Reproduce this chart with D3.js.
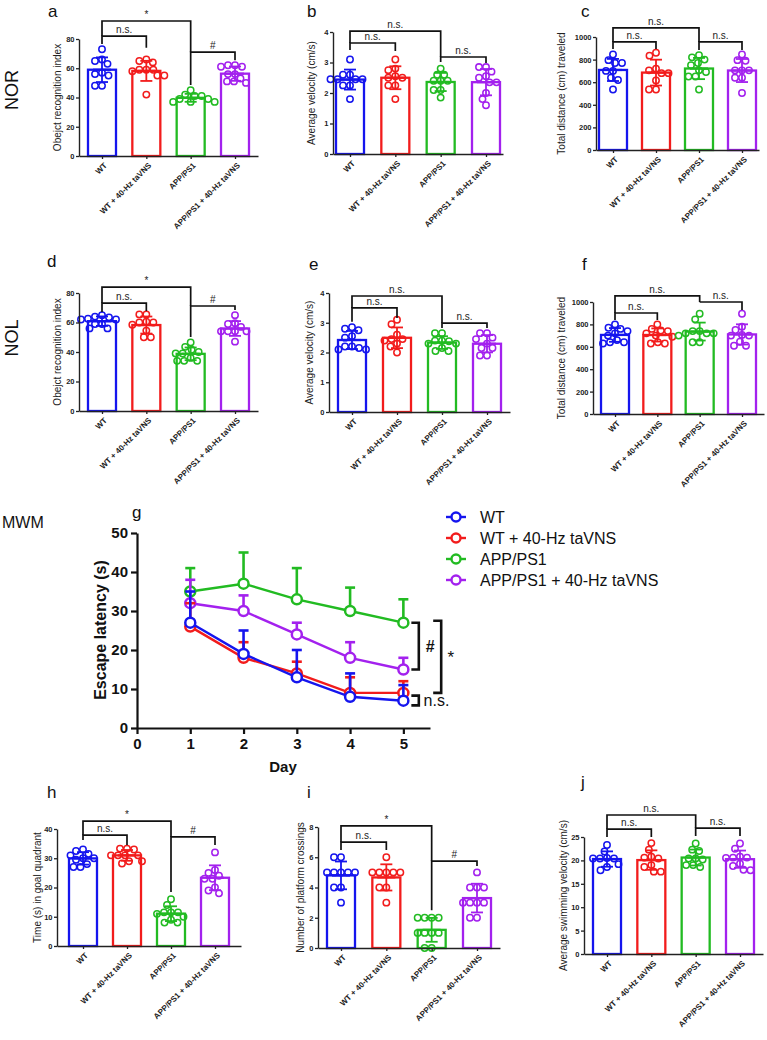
<!DOCTYPE html>
<html><head><meta charset="utf-8">
<script src="https://cdn.jsdelivr.net/npm/d3@7"></script>
<style>
body{margin:0;background:#fff}
svg{display:block}
text{font-family:Arial,"Liberation Sans",Helvetica,sans-serif}
</style>
</head><body>
<svg id="c" width="767" height="1040"></svg>
<script>
// ---------- data ----------
const groups = ["WT", "WT + 40-Hz taVNS", "APP/PS1", "APP/PS1 + 40-Hz taVNS"];
const colors = ["#1515EE", "#F21C1C", "#22BB22", "#A321EE"];

// a: NOR object recognition index
const norIndex = [
  [73, 66, 65, 63, 57, 56, 55, 48, 48],
  [64, 65, 66, 59, 58, 59, 59, 55, 55, 42],
  [45, 41, 42, 41, 39, 39, 37, 37, 37],
  [61, 62, 62, 61, 56, 56, 50, 51, 51, 53]
];
// b: NOR average velocity
const norVelocity = [
  [3.1, 2.6, 2.6, 2.45, 2.45, 2.45, 2.45, 2.25, 2.25, 1.8],
  [3.1, 2.8, 2.75, 2.5, 2.55, 2.5, 2.25, 2.25, 1.8],
  [2.8, 2.6, 2.6, 2.4, 2.4, 2.4, 2.1, 2.1, 1.85],
  [2.85, 2.85, 2.7, 2.55, 2.5, 2.35, 2.35, 2.0, 1.8, 1.6]
];
// c: NOR total distance
const norDistance = [
  [845, 795, 770, 770, 700, 700, 640, 620, 535],
  [860, 835, 720, 705, 680, 680, 615, 535, 535],
  [840, 820, 800, 770, 750, 705, 690, 650, 650, 535],
  [845, 795, 790, 705, 705, 705, 640, 640, 505]
];
// d: NOL object recognition index
const nolIndex = [
  [65, 64, 63.5, 62.5, 62, 62, 59, 59, 56, 56],
  [65.5, 65.5, 60.5, 60, 60, 58.5, 54.5, 50, 50],
  [46.5, 43.5, 41.5, 40, 39, 39, 36, 34, 34, 34],
  [65, 59.5, 59, 57, 54, 54, 54, 54, 47]
];
// e: NOL average velocity
const nolVelocity = [
  [2.85, 2.8, 2.75, 2.55, 2.5, 2.2, 2.2, 2.15, 2.1, 2.1],
  [3.1, 2.95, 2.6, 2.45, 2.45, 2.4, 2.3, 2.2, 2.0],
  [2.65, 2.65, 2.4, 2.4, 2.38, 2.3, 2.3, 2.15, 2.05, 2.05],
  [2.65, 2.65, 2.5, 2.45, 2.3, 2.15, 2.15, 1.9, 1.9]
];
// f: NOL total distance
const nolDistance = [
  [800, 770, 760, 740, 720, 700, 660, 640, 640, 630],
  [800, 760, 745, 740, 720, 700, 690, 640, 630, 630],
  [895, 845, 740, 740, 720, 720, 720, 700, 640, 640],
  [895, 780, 750, 705, 700, 700, 645, 610, 610]
];
// g: MWM escape latency (mean, SD) per day
const days = [1, 2, 3, 4, 5];
const wtLatency = [27, 19, 13, 8, 7];
const wtLatencySD = [8, 6, 7, 6, 4];
const wtTavnsLatency = [26, 18, 14, 9, 9];
const wtTavnsLatencySD = [6, 4, 3, 4, 3];
const appLatency = [35, 37, 33, 30, 27];
const appLatencySD = [6, 8, 8, 6, 6];
const appTavnsLatency = [32, 30, 24, 18, 15];
const appTavnsLatencySD = [6, 4, 3, 4, 3];
const latencyTicks = [0, 10, 20, 30, 40, 50];
const dayTicks = [0, 1, 2, 3, 4, 5];
// h: time in goal quadrant
const goalTime = [
  [33, 32.5, 31.5, 31, 30, 30, 29.5, 28, 27, 27],
  [33.3, 33.3, 33, 31, 31, 31, 31, 29, 29, 28.2],
  [16, 14, 11.5, 11.5, 11.5, 11, 10, 9, 8, 8],
  [32, 26, 25, 24, 23, 23, 20, 19, 18]
];
// i: platform crossings
const crossings = [
  [6, 6, 5, 5, 5, 5, 5, 4, 4, 3],
  [6, 5, 5, 5, 5, 5, 4, 4, 3],
  [2, 2, 2, 2, 1, 1, 1, 1, 0, 0],
  [5, 4, 4, 4, 3, 3, 3, 3, 2, 2]
];
// j: average swimming velocity
const swimVelocity = [
  [23.3, 21.9, 20.5, 20.4, 20.4, 20.4, 19.2, 18.6, 17.9],
  [23.7, 22.3, 20.8, 20.6, 20.4, 19, 18.6, 17.6, 17.6],
  [23.6, 22.3, 22, 20.4, 20.4, 20.2, 19, 19, 18.6],
  [23.6, 22.5, 20.8, 20.6, 20.6, 20.5, 19.3, 18.8, 18, 17.9]
];

// ---------- drawing ----------
const svg = d3.select("#c");
const fmt = d3.format("d");

function beeswarm(vals, y, cx, r) {
  const idx = vals.map((v, i) => i).sort((a, b) => vals[b] - vals[a]);
  const placed = [];
  const out = new Array(vals.length);
  const d = 2 * r + 0.6;
  idx.forEach(i => {
    const py = y(vals[i]);
    let off = 0;
    for (let k = 0; k < 200; k++) {
      const c = (k % 2 === 0 ? 1 : -1) * Math.ceil(k / 2) * 0.5;
      const ok = placed.every(p => Math.hypot(p[0] - (cx + c), p[1] - py) >= d);
      if (ok) { off = c; break; }
    }
    placed.push([cx + off, py]);
    out[i] = [cx + off, py];
  });
  return out;
}

function styleAxis(sel, fs) {
  sel.select(".domain").attr("stroke", "#222").attr("stroke-width", 1.4);
  sel.selectAll(".tick line").attr("stroke", "#222").attr("stroke-width", 1.3);
  sel.selectAll(".tick text").attr("fill", "#222").style("font-size", fs + "px").style("font-weight", "bold");
}

function barPanel(cfg) {
  const g = svg.append("g");
  const stepPx = (cfg.c3 - cfg.c0) / 3;
  const pad = (cfg.c0 - cfg.left) / stepPx;
  const right = cfg.c3 + (cfg.c0 - cfg.left);
  const x = d3.scalePoint().domain(groups).range([cfg.left, right]).padding(pad);
  const y = d3.scaleLinear().domain([0, cfg.max]).range([cfg.bottom, cfg.top]);
  const bw = 28, r = 3.2;

  groups.forEach((grp, i) => {
    const vals = cfg.data[i];
    const m = d3.mean(vals), sd = d3.deviation(vals);
    const cx = x(grp);
    g.append("rect").attr("x", cx - bw / 2).attr("y", y(m)).attr("width", bw)
      .attr("height", y(0) - y(m)).attr("fill", "#fff").attr("stroke", colors[i]).attr("stroke-width", 2.3);
    g.append("line").attr("x1", cx).attr("x2", cx).attr("y1", y(m - sd)).attr("y2", y(m + sd))
      .attr("stroke", colors[i]).attr("stroke-width", 1.8);
    [m - sd, m + sd].forEach(v => g.append("line").attr("x1", cx - 6).attr("x2", cx + 6)
      .attr("y1", y(v)).attr("y2", y(v)).attr("stroke", colors[i]).attr("stroke-width", 1.8));
    g.append("line").attr("x1", cx - 9).attr("x2", cx + 9).attr("y1", y(m)).attr("y2", y(m))
      .attr("stroke", colors[i]).attr("stroke-width", 2.2);
    const pts = beeswarm(vals, y, cx, r);
    g.selectAll(null).data(pts).join("circle").attr("cx", d => d[0]).attr("cy", d => d[1]).attr("r", r)
      .attr("fill", "none").attr("stroke", colors[i]).attr("stroke-width", 1.5);
  });

  const ya = g.append("g").attr("transform", `translate(${cfg.left},0)`)
    .call(d3.axisLeft(y).tickValues(d3.range(0, cfg.max + cfg.step / 2, cfg.step)).tickFormat(fmt)
      .tickSize(3).tickSizeOuter(0).tickPadding(1.5));
  styleAxis(ya, 7.5);
  const xa = g.append("g").attr("transform", `translate(0,${cfg.bottom})`)
    .call(d3.axisBottom(x).tickSize(3).tickSizeOuter(0));
  styleAxis(xa, 8);
  xa.selectAll(".tick text").attr("x", 0).attr("y", 0).attr("dy", "0.35em")
    .attr("transform", "translate(3,8) rotate(-45)").style("text-anchor", "end");

  g.append("text").attr("transform", `translate(${cfg.ylx},${(cfg.top + cfg.bottom) / 2}) rotate(-90)`)
    .attr("dy", "0.35em").attr("text-anchor", "middle").style("font-size", "10px").attr("fill", "#222")
    .text(cfg.ylabel);
  g.append("text").attr("x", cfg.lx).attr("y", cfg.ly).style("font-size", "17px").attr("fill", "#111").text(cfg.letter);

  cfg.brackets.forEach(b => {
    const x1 = x(groups[b[0]]), x2 = x(groups[b[1]]);
    const yl = y(b[2]);
    g.append("path").attr("d", `M${x1},${y(b[3])}V${yl}H${x2}V${y(b[4])}`)
      .attr("fill", "none").attr("stroke", "#111").attr("stroke-width", 1.7);
    g.append("text").attr("x", (x1 + x2) / 2).attr("y", yl - 3).attr("text-anchor", "middle")
      .style("font-size", "10px").attr("fill", "#222").text(b[5]);
  });
}

const panels = [
  {data: norIndex, letter: "a", lx: 48, ly: 17, left: 79, c0: 102, c3: 235, top: 39, bottom: 156, max: 80, step: 20,
   ylabel: "Obejct recognition index", ylx: 57,
   brackets: [[0, 2, 92.3, 82, 71, "*"], [0, 1, 82, 76.5, 74, "n.s."], [2, 3, 71, 48.5, 65.5, "#"]]},
  {data: norVelocity, letter: "b", lx: 307, ly: 17, left: 333, c0: 350, c3: 486, top: 32, bottom: 154, max: 4, step: 1,
   ylabel: "Average velocity (cm/s)", ylx: 311,
   brackets: [[0, 2, 4.03, 3.64, 3.18, "n.s."], [0, 1, 3.64, 3.41, 3.38, "n.s."], [2, 3, 3.18, 3.02, 2.98, "n.s."]]},
  {data: norDistance, letter: "c", lx: 581, ly: 17, left: 596, c0: 613, c3: 742, top: 37, bottom: 150, max: 1000, step: 200,
   ylabel: "Total distance (cm) traveled", ylx: 561,
   brackets: [[0, 2, 1080, 956, 956, "n.s."], [0, 1, 956, 894, 894, "n.s."], [2, 3, 956, 885, 885, "n.s."]]},
  {data: nolIndex, letter: "d", lx: 47, ly: 267, left: 79, c0: 102, c3: 235, top: 293, bottom: 411, max: 80, step: 20,
   ylabel: "Obejct recognition index", ylx: 57,
   brackets: [[0, 2, 84, 73.2, 71.2, "*"], [0, 1, 73.2, 67.1, 67.8, "n.s."], [2, 3, 71.2, 50.2, 68.5, "#"]]},
  {data: nolVelocity, letter: "e", lx: 309, ly: 270, left: 329, c0: 352, c3: 487, top: 293, bottom: 412, max: 4, step: 1,
   ylabel: "Average velocity (cm/s)", ylx: 309,
   brackets: [[0, 2, 3.9, 3.5, 2.99, "n.s."], [0, 1, 3.5, 3.03, 3.16, "n.s."], [2, 3, 2.99, 2.82, 2.82, "n.s."]]},
  {data: nolDistance, letter: "f", lx: 582, ly: 270, left: 593, c0: 615, c3: 742, top: 302, bottom: 414, max: 1000, step: 200,
   ylabel: "Total distance (cm) traveled", ylx: 561,
   brackets: [[0, 2, 1054, 902, 1000, "n.s."], [0, 1, 902, 839, 839, "n.s."], [2, 3, 1000, 1000, 929, "n.s."]]},
  {data: goalTime, letter: "h", lx: 47, ly: 798, left: 57, c0: 83, c3: 215, top: 829, bottom: 946, max: 40, step: 10,
   ylabel: "Time (s) in goal quadrant", ylx: 37,
   brackets: [[0, 2, 42.7, 37.9, 37.3, "*"], [0, 1, 37.9, 36.2, 34.5, "n.s."], [2, 3, 37.3, 18.5, 34.5, "#"]]},
  {data: crossings, letter: "i", lx: 307, ly: 798, left: 318, c0: 341, c3: 477, top: 827, bottom: 948, max: 8, step: 2,
   ylabel: "Number of platform crossings", ylx: 300,
   brackets: [[0, 2, 8.07, 7.0, 5.75, "*"], [0, 1, 7.0, 6.48, 6.48, "n.s."], [2, 3, 5.75, 2.5, 5.42, "#"]]},
  {data: swimVelocity, letter: "j", lx: 581, ly: 788, left: 584, c0: 607, c3: 740, top: 837, bottom: 954, max: 25, step: 5,
   ylabel: "Average swimming velocity (cm/s)", ylx: 563,
   brackets: [[0, 2, 29.7, 26.7, 26.9, "n.s."], [0, 1, 26.7, 25, 25, "n.s."], [2, 3, 26.9, 25.2, 25.2, "n.s."]]}
];
panels.forEach(barPanel);

svg.append("text").attr("transform", "translate(12,90) rotate(-90)").attr("dy", "0.35em").attr("text-anchor", "middle")
  .style("font-size", "18px").attr("fill", "#111").text("NOR");
svg.append("text").attr("transform", "translate(12,338) rotate(-90)").attr("dy", "0.35em").attr("text-anchor", "middle")
  .style("font-size", "18px").attr("fill", "#111").text("NOL");
svg.append("text").attr("x", 2).attr("y", 528).style("font-size", "16px").attr("fill", "#111").text("MWM");

// ---------- panel g ----------
(function () {
  const g = svg.append("g");
  const x = d3.scaleLinear().domain([0, 5.5]).range([137, 430]);
  const y = d3.scaleLinear().domain([0, 50]).range([728, 533]);
  const xa = g.append("g").attr("transform", "translate(0,728)")
    .call(d3.axisBottom(x).tickValues(dayTicks).tickFormat(fmt).tickSize(6).tickSizeOuter(0).tickPadding(4));
  const ya = g.append("g").attr("transform", "translate(137,0)")
    .call(d3.axisLeft(y).tickValues(latencyTicks).tickFormat(fmt).tickSize(6).tickSizeOuter(0).tickPadding(3));
  [xa, ya].forEach(a => {
    a.select(".domain").attr("stroke", "#111").attr("stroke-width", 2.2);
    a.selectAll(".tick line").attr("stroke", "#111").attr("stroke-width", 2.2);
    a.selectAll(".tick text").attr("fill", "#111").style("font-size", "15px").style("font-weight", "bold");
  });
  g.append("text").attr("transform", "translate(100,630) rotate(-90)").attr("dy", "0.35em").attr("text-anchor", "middle")
    .style("font-size", "16px").style("font-weight", "bold").attr("fill", "#111").text("Escape latency (s)");
  g.append("text").attr("x", 283).attr("y", 772).attr("text-anchor", "middle")
    .style("font-size", "15px").style("font-weight", "bold").attr("fill", "#111").text("Day");
  g.append("text").attr("x", 132).attr("y", 518).style("font-size", "17px").attr("fill", "#111").text("g");

  const series = [
    {m: appLatency, sd: appLatencySD, c: colors[2]},
    {m: appTavnsLatency, sd: appTavnsLatencySD, c: colors[3]},
    {m: wtTavnsLatency, sd: wtTavnsLatencySD, c: colors[1]},
    {m: wtLatency, sd: wtLatencySD, c: colors[0]}
  ];
  const line = d3.line().x((d, i) => x(days[i])).y(d => y(d));
  series.forEach(s => {
    days.forEach((dd, i) => {
      g.append("line").attr("x1", x(dd)).attr("x2", x(dd)).attr("y1", y(s.m[i])).attr("y2", y(s.m[i] + s.sd[i]))
        .attr("stroke", s.c).attr("stroke-width", 2.6);
      g.append("line").attr("x1", x(dd) - 5).attr("x2", x(dd) + 5).attr("y1", y(s.m[i] + s.sd[i])).attr("y2", y(s.m[i] + s.sd[i]))
        .attr("stroke", s.c).attr("stroke-width", 2.6);
    });
    g.append("path").attr("d", line(s.m)).attr("fill", "none").attr("stroke", s.c).attr("stroke-width", 2.4);
    g.selectAll(null).data(s.m).join("circle").attr("cx", (d, i) => x(days[i])).attr("cy", d => y(d)).attr("r", 5)
      .attr("fill", "#fff").attr("stroke", s.c).attr("stroke-width", 2.5);
  });

  const br = (xa1, xb, v1, v2, label, tx, fs, bold) => {
    g.append("path").attr("d", `M${x(xa1)},${y(v1)}H${x(xb)}V${y(v2)}H${x(xa1)}`)
      .attr("fill", "none").attr("stroke", "#111").attr("stroke-width", 2.6);
    g.append("text").attr("x", x(tx)).attr("y", (y(v1) + y(v2)) / 2).attr("dy", "0.35em")
      .style("font-size", fs + "px").style("font-weight", bold ? "bold" : "normal").attr("fill", "#111").text(label);
  };
  br(5.15, 5.29, 27, 15, "#", 5.42, 16, true);
  br(5.56, 5.71, 27.5, 9, "*", 5.83, 17, false);
  br(5.15, 5.29, 8.3, 5.8, "n.s.", 5.38, 16, false);

  groups.forEach((name, i) => {
    const cy = 517 + i * 21;
    const lg = svg.append("g");
    lg.append("line").attr("x1", 446).attr("x2", 466).attr("y1", cy).attr("y2", cy).attr("stroke", colors[i]).attr("stroke-width", 2.4);
    lg.append("circle").attr("cx", 456).attr("cy", cy).attr("r", 4.5).attr("fill", "#fff").attr("stroke", colors[i]).attr("stroke-width", 2.4);
    lg.append("text").attr("x", 480).attr("y", cy).attr("dy", "0.35em").style("font-size", "16px").attr("fill", "#111").text(name);
  });
})();
</script>
</body></html>
